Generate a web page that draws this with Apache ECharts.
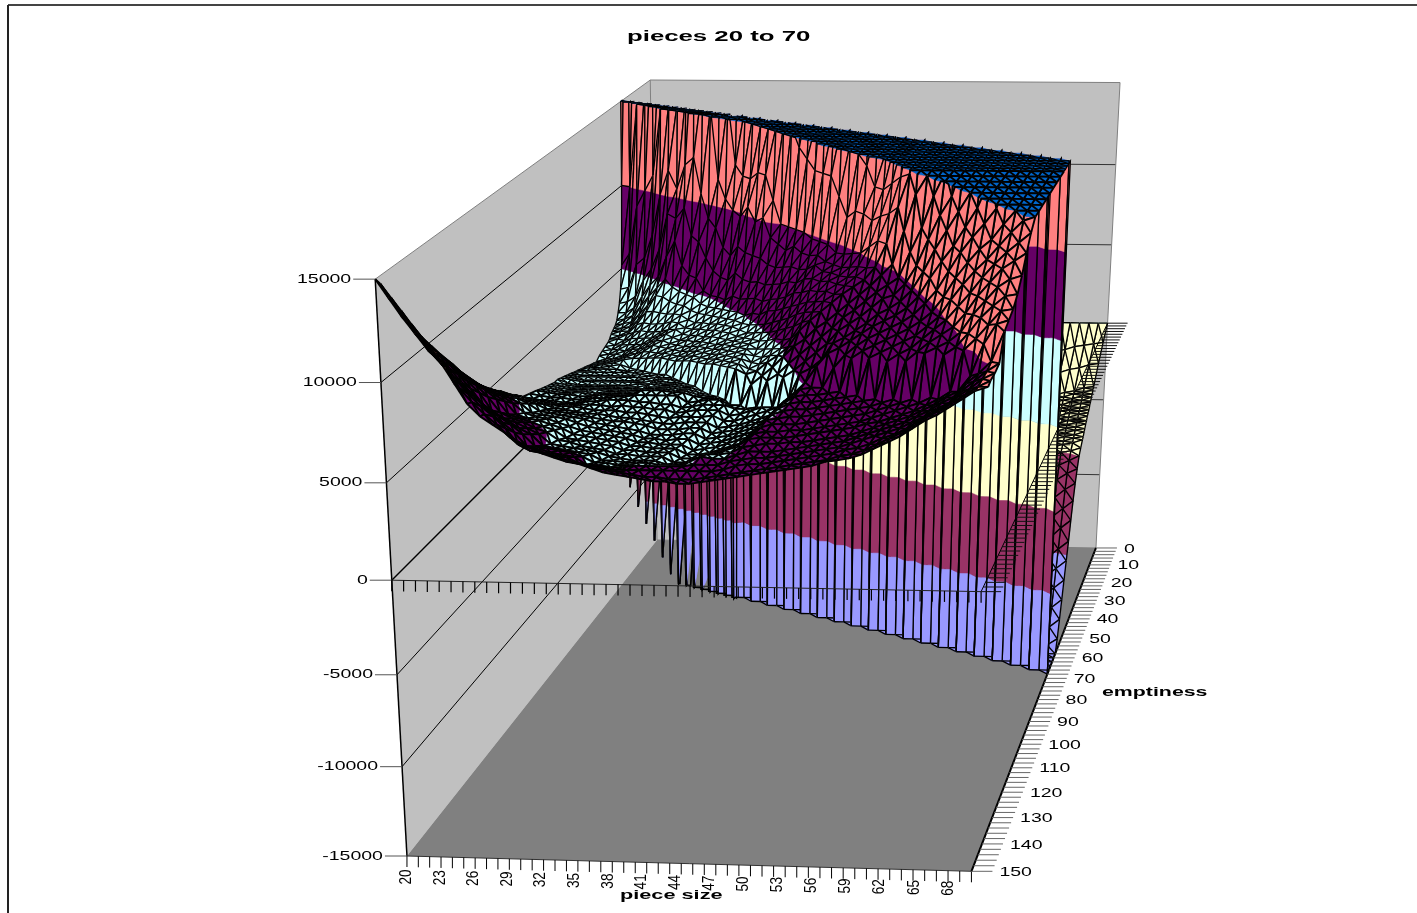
<!DOCTYPE html>
<html>
<head>
<meta charset="utf-8">
<title>pieces 20 to 70</title>
<style>
  html, body { margin: 0; padding: 0; background: #fff; }
  #chart { width: 1417px; height: 913px; }
</style>
<script src="https://cdn.jsdelivr.net/npm/echarts@6/dist/echarts.min.js"></script>
</head>
<body>
<div id="chart"></div>
<script>
const F = -150 // at or under the floor of the plot

const pieceSizes = [20,21,22,23,24,25,26,27,28,29,30,31,32,33,34,35,36,37,38,39,40,41,42,43,44,45,46,47,48,49,50,51,52,53,54,55,56,57,58,59,60,61,62,63,64,65,66,67,68,69]
const pieceLabels = [20,23,26,29,32,35,38,41,44,47,50,53,56,59,62,65,68]
const emptinessRows = [0,6,12,18,19,20,21,22,23,24,25,26,27,28,29,30,31,32,34,36,38,40,42,44,46,48,50,52,54,56,58,60,62,64,66,68,70,72,74,76,80,84,88,92,96,100,104,108,112,116,120,124,128,132,136,140,144,148,150]
const emptinessLabels = [0,10,20,30,40,50,60,70,80,90,100,110,120,130,140,150]
const valueTicks = [-15000,-10000,-5000,0,5000,10000,15000]

// surface height in hundreds, one line per emptiness row, one value per piece size
const surfaceHundreds = [
[0,0,0,0,0,0,0,0,0,0, 0,0,0,0,0,0,0,0,0,0, 0,0,0,0,0,0,0,0,0,0, 0,0,0,0,0,0,0,0,0,0, 0,0,0,0,0,0,0,0,0,0],
[-5,-5,-5,-5,-5,-5,-5,-5,-5,-5, -8,-8,-8,-8,-8,-8,-8,-8,-8,-8, -8,-8,-8,-8,-8,-8,-8,-8,-8,-8, -8,-8,-8,-8,-8,-8,-8,-8,-8,-8, -19,-18,-16,-15,-13,-12,-10,-9,-8,-7],
[-15,-15,-15,-15,-15,-15,-15,-15,-15,-15, -15,-15,-15,-15,-15,-15,-15,-15,-15,-15, -15,-15,-15,-15,-15,-15,-15,-15,-15,-15, -15,-15,-15,-15,-15,-15,-15,-15,-15,-15, -28,-27,-25,-24,-22,-21,-19,-18,-16,-15],
[-42,-38,-38,-38,-38,-38,-38,-38,-38,-38, -38,-38,-38,-38,F,F,F,F,F,F, F,F,F,F,F,F,F,F,F,F, F,F,F,F,F,F,F,F,F,F, -37,-35,-34,-33,-31,-30,-28,-27,-25,-24],
[-93,-47,-40,-40,-40,-40,-40,-40,-40,-40, -40,-40,-40,-40,F,F,F,F,F,F, F,F,F,F,F,F,F,F,F,F, F,F,F,F,F,F,F,F,F,F, -38,-37,-35,-34,-33,-31,-30,-28,-27,-25],
[200,-105,-52,-42,-42,-42,-42,-42,-42,-42, -42,-42,-42,-42,F,F,F,F,F,F, F,F,F,F,F,F,F,F,F,F, F,F,F,F,F,F,F,F,F,F, -40,-38,-37,-35,-34,-33,-31,-30,-28,-27],
[100,260,-115,-56,-45,-45,-45,-45,-45,-45, -45,-45,-45,-45,F,F,F,F,F,F, F,F,F,F,F,F,F,F,F,F, F,F,F,F,F,F,F,F,F,F, -41,-40,-38,-37,-35,-34,-33,-31,-30,-28],
[52,100,250,-125,-61,-48,-48,-48,-48,-48, -48,-48,-48,-48,F,F,F,F,F,F, F,F,F,F,F,F,F,F,F,F, F,F,F,F,F,F,F,F,F,F, -43,-41,-40,-38,-37,-35,-34,-33,-31,-30],
[38,60,150,300,-135,-65,-51,-51,-51,-51, -51,-51,-51,-51,F,F,F,F,F,F, F,F,F,F,F,F,F,F,F,F, F,F,F,F,F,F,F,F,F,F, -44,-43,-41,-40,-38,-37,-35,-34,-33,-31],
[30,40,90,160,300,-145,-72,-55,-55,-55, -55,-55,-55,-55,F,F,F,F,F,F, F,F,F,F,F,F,F,F,F,F, F,F,F,F,F,F,F,F,F,F, -46,-44,-43,-41,-40,-38,-37,-35,-34,-33],
[25,32,55,100,200,350,-160,-85,-60,-60, -60,-60,-60,-60,F,F,F,F,F,F, F,F,F,F,F,F,F,F,F,F, F,F,F,F,F,F,F,F,F,F, -47,-46,-44,-43,-41,-40,-38,-37,-35,-34],
[21,26,36,60,110,200,400,-190,-100,-65, -65,-65,-65,-65,F,F,F,F,F,F, F,F,F,F,F,F,F,F,F,F, F,F,F,F,F,F,F,F,F,F, -49,-47,-46,-44,-43,-41,-40,-38,-37,-35],
[19,23,30,47,75,150,300,420,-220,-115, -72,-72,-72,-72,F,F,F,F,F,F, F,F,F,F,F,F,F,F,F,F, F,F,F,F,F,F,F,F,F,F, -50,-49,-47,-46,-44,-43,-41,-40,-38,-37],
[18,21,26,38,55,100,155,250,450,-260, -135,-80,-80,-80,F,F,F,F,F,F, F,F,F,F,F,F,F,F,F,F, F,F,F,F,F,F,F,F,F,F, -53,-50,-49,-47,-46,-44,-43,-41,-40,-38],
[17,19,23,33,46,68,115,155,300,450, -300,-150,-88,-88,F,F,F,F,F,F, F,F,F,F,F,F,F,F,F,F, F,F,F,F,F,F,F,F,F,F, -56,-53,-50,-49,-47,-46,-44,-43,-41,-40],
[16,18,21,29,40,52,90,105,160,300, 500,-340,-150,-95,F,F,F,F,F,F, F,F,F,F,F,F,F,F,F,F, F,F,F,F,F,F,F,F,F,F, -59,-56,-53,-50,-49,-47,-46,-44,-43,-41],
[14,16,19,26,35,46,65,88,120,200, 300,500,-380,-150,F,F,F,F,F,F, F,F,F,F,F,F,F,F,F,F, F,F,F,F,F,F,F,F,F,F, -63,-59,-56,-53,-50,-49,-47,-46,-44,-43],
[13,15,18,24,32,42,52,75,95,125, 170,300,550,-420,F,F,F,F,F,F, F,F,F,F,F,F,F,F,F,F, F,F,F,F,F,F,F,F,F,F, -67,-63,-59,-56,-53,-50,-49,-47,-46,-44],
[12,13,16,21,27,34,43,49,62,80, 105,155,200,350,600,F,F,F,F,F, F,F,F,F,F,F,F,F,F,F, F,F,F,F,F,F,F,F,F,F, -77,-72,-67,-63,-59,-56,-53,-50,-49,-47],
[11,12,15,19,24,28,35,42,48,58, 78,92,115,160,200,450,650,F,F,F, F,F,F,F,F,F,F,F,F,F, F,F,F,F,F,F,F,F,F,F, -87,-82,-77,-72,-67,-63,-59,-56,-53,-50],
[10,11,14,17,21,25,30,36,42,48, 58,70,88,105,125,160,220,500,700,F, F,F,F,F,F,F,F,F,F,F, F,F,F,F,F,F,F,F,F,F, -98,-93,-87,-82,-77,-72,-67,-63,-59,-56],
[8,10,13,15,19,23,27,32,38,43, 48,52,64,78,100,120,155,200,280,550, 750,F,F,F,F,F,F,F,F,F, F,F,F,F,F,F,F,F,F,F, -108,-103,-98,-93,-87,-82,-77,-72,-67,-63],
[9,10,12,14,18,21,25,29,35,39, 42,46,51,62,75,98,120,150,200,300, 600,800,850,F,F,F,F,F,F,F, F,F,F,F,F,F,F,F,F,F, -118,-113,-108,-103,-98,-93,-87,-82,-77,-72],
[10,11,12,14,17,20,24,28,32,36, 38,42,46,52,62,82,105,125,150,220, 300,500,800,900,950,F,F,F,F,F, F,F,F,F,F,F,F,F,F,F, -128,-123,-118,-113,-108,-103,-98,-93,-87,-82],
[11,12,13,15,17,19,23,27,31,34, 35,38,43,47,52,68,80,98,125,152, 220,320,450,700,900,1000,1000,F,F,F, F,F,F,F,F,F,F,F,F,F, -138,-133,-128,-123,-118,-113,-108,-103,-98,-93],
[12,13,14,15,17,18,22,26,29,31, 33,36,40,44,48,56,66,80,102,112, 155,210,290,420,600,800,1000,1100,1200,F, F,F,F,F,F,F,F,F,F,F, -147,-143,-138,-133,-128,-123,-118,-113,-108,-103],
[13,14,14,15,16,14,20,24,27,29, 31,34,38,41,45,49,56,66,80,92, 100,155,200,280,400,600,800,1000,1200,1300, 1400,F,F,F,F,F,F,F,F,F, F,F,-147,-143,-138,-133,-128,-123,-118,-113],
[14,14,15,15,15,14,15,22,25,28, 30,33,36,39,43,46,50,58,68,78, 90,100,145,180,300,430,580,750,1000,1200, 1400,1500,1500,F,F,F,F,F,F,F, F,F,F,F,-147,-143,-138,-133,-128,-123],
[15,15,15,15,15,15,15,16,24,27, 29,31,34,37,41,44,47,50,60,68, 78,88,100,140,165,300,400,560,750,1000, 1200,1400,1600,1600,1700,F,F,F,F,F, F,F,F,F,F,F,-147,-143,-138,-133],
[16,15,15,15,15,15,15,16,17,26, 28,30,33,36,39,42,45,47,53,60, 70,80,92,100,135,220,300,400,560,750, 1000,1200,1400,1600,1700,1700,1800,F,F,F, F,F,F,F,F,F,F,F,-147,-143],
[17,16,16,16,16,16,16,16,17,18, 27,29,32,35,37,40,43,45,48,54, 63,72,82,90,98,135,165,300,420,560, 750,1000,1200,1400,1600,1700,1800,1800,1900,F, F,F,F,F,F,F,F,F,F,F],
[18,17,16,16,16,16,16,16,17,18, 20,28,31,34,36,38,41,43,45,50, 58,65,75,82,90,98,135,165,310,420, 560,750,1000,1200,1400,1600,1700,1800,1900,1900, 2000,F,F,F,F,F,F,F,F,F],
[19,18,17,17,17,17,17,17,17,18, 20,20,30,33,35,37,40,42,44,47, 52,60,68,76,84,92,98,125,155,200, 300,560,750,1000,1200,1400,1600,1700,1800,1900, 2000,2000,2000,F,F,F,F,F,F,F],
[20,18,17,17,17,17,17,17,18,18, 21,21,20,32,34,36,39,41,43,45, 49,55,63,72,80,88,90,95,115,150, 200,300,420,700,1000,1200,1400,1600,1700,1800, 1900,2000,2000,2000,2000,F,F,F,F,F],
[20,19,18,18,18,18,18,18,18,19, 22,21,21,20,33,35,38,40,42,44, 46,51,58,66,74,82,86,90,96,120, 145,170,250,320,500,800,1100,1300,1500,1600, 1700,1800,1900,1900,2000,2000,2000,F,F,F],
[21,20,19,19,19,19,19,19,19,19, 23,22,22,21,21,34,37,39,41,43, 43,48,54,61,69,77,82,87,90,98, 120,135,155,230,320,500,800,1000,1200,1400, 1500,1600,1700,1800,1900,1900,2000,2000,2000,F],
[22,21,20,20,20,20,20,20,20,20, 24,23,23,22,22,20,36,38,40,42, 41,45,51,57,65,72,78,84,87,92, 100,118,135,160,230,290,500,800,1000,1200, 1300,1400,1500,1600,1700,1800,1900,1900,2000,2000],
[23,22,21,21,21,20,21,21,21,21, 24,24,24,23,23,21,20,37,39,41, 39,42,47,52,60,68,74,80,84,88, 94,105,122,140,165,230,290,500,800,1000, 1100,1200,1300,1400,1500,1600,1700,1800,1900,2000],
[24,23,22,22,22,21,22,22,22,22, 25,25,25,24,24,22,21,21,38,40, 37,40,45,49,55,64,70,76,80,85, 90,95,110,125,145,180,230,300,500,800, 900,1000,1100,1200,1300,1400,1500,1600,1700,1800],
[25,24,23,23,22,22,23,23,23,23, 26,26,26,25,25,23,22,22,21,39, 36,38,43,47,52,61,67,72,77,82, 86,90,97,110,130,148,180,240,290,400, 450,550,650,750,850,1000,1200,1400,1500,1600],
[27,26,25,25,24,24,25,25,26,26, 27,27,27,27,27,23,24,25,25,22, 22,34,39,44,50,56,60,66,70,75, 80,85,90,96,102,120,140,150,180,240, 320,420,500,600,700,800,900,1000,1100,1300],
[29,28,27,27,26,26,27,27,28,28, 28,27,27,26,26,24,25,26,26,26, 24,24,25,40,44,50,55,60,65,70, 76,80,85,90,94,98,112,125,142,155, 200,240,300,370,420,500,600,700,800,1000],
[34,32,31,31,29,29,29,29,29,28, 29,28,28,27,27,25,26,27,27,27, 24,25,27,29,29,46,50,55,60,65, 72,76,80,85,90,92,98,108,122,135, 145,165,200,250,300,340,450,550,650,800],
[38,37,36,35,33,32,32,31,30,30, 30,29,29,28,27,26,27,27,27,28, 25,25,27,29,31,33,38,52,55,60, 69,72,76,80,85,88,92,98,108,120, 130,140,150,175,215,250,330,420,520,600],
[44,42,41,39,37,35,34,33,32,32, 31,30,30,29,28,27,27,28,28,28, 25,26,27,29,31,33,40,45,51,60, 67,70,74,78,82,85,88,92,98,108, 117,125,135,145,160,185,220,280,380,450],
[48,47,45,43,41,38,37,36,35,34, 33,32,32,31,30,28,28,28,29,29, 26,27,28,30,32,34,41,46,51,52, 52,63,70,75,79,82,85,88,92,98, 105,115,125,133,140,148,165,190,230,320],
[54,52,50,48,45,41,40,39,38,37, 35,34,33,32,31,29,29,29,30,30, 27,28,29,31,33,35,42,47,51,52, 52,53,54,72,76,79,82,85,88,92, 97,105,115,123,130,135,143,150,175,220],
[60,57,55,52,49,44,43,42,41,39, 37,36,35,34,33,31,31,30,31,31, 28,29,30,32,34,36,43,48,51,52, 52,53,54,55,56,76,79,82,85,88, 93,98,107,115,122,128,135,142,148,150],
[66,63,60,57,53,48,46,45,43,41, 39,38,37,36,35,33,33,32,32,32, 29,30,31,33,35,37,44,49,51,52, 52,53,54,55,56,57,58,78,82,85, 90,95,100,107,114,122,129,135,140,145],
[74,70,66,62,58,51,49,48,46,44, 41,40,39,38,37,35,35,34,34,34, 31,31,32,34,36,38,45,50,51,52, 52,53,54,55,56,57,58,60,62,82, 87,92,96,100,107,116,123,130,134,138],
[82,77,72,68,63,55,53,51,49,47, 43,42,41,40,39,37,37,36,36,36, 33,33,34,36,38,40,46,50,52,52, 52,53,54,55,56,57,58,60,62,64, 66,90,93,96,101,110,117,124,128,130],
[90,85,79,74,68,60,57,55,52,50, 46,45,43,42,41,39,39,38,38,38, 35,35,36,38,40,42,47,51,52,52, 53,53,54,55,56,57,58,60,62,64, 66,68,71,93,97,104,112,118,123,124],
[98,92,86,80,74,65,61,59,56,53, 48,47,46,45,44,42,41,40,40,40, 38,38,38,40,44,46,48,52,53,53, 53,54,55,56,57,58,59,61,62,64, 66,68,71,74,78,99,105,112,119,120],
[106,100,94,87,80,72,67,64,60,57, 51,50,49,48,47,44,44,43,43,43, 42,42,43,45,48,48,49,52,53,54, 54,55,55,56,57,58,59,61,63,65, 67,69,72,75,79,82,90,106,116,118],
[116,108,102,94,87,80,74,70,66,61, 55,54,53,52,50,47,47,46,46,45, 44,45,46,48,51,50,50,52,54,54, 54,55,56,57,58,59,60,62,64,66, 68,70,73,76,80,83,90,95,101,116],
[126,117,110,102,94,88,80,76,71,66, 59,58,56,55,54,50,50,49,49,50, 50,50,50,50,51,51,51,53,54,55, 55,56,57,58,59,60,61,63,65,67, 69,71,74,77,81,84,90,95,100,104],
[136,127,119,111,103,96,89,83,78,72, 64,61,60,59,58,55,54,53,52,52, 52,52,52,52,52,52,52,53,55,56, 56,57,58,59,60,61,62,64,65,67, 70,72,75,79,83,86,91,95,100,103],
[146,137,128,120,112,106,96,89,83,78, 72,68,66,64,62,60,59,57,56,55, 54,53,53,52,52,52,53,54,55,56, 57,58,59,60,61,62,63,65,66,68, 71,74,77,81,85,88,92,96,100,103],
[150,141,132,124,116,110,100,90,84,80, 76,72,69,66,64,62,61,59,57,56, 55,54,53,53,52,52,53,54,55,56, 57,58,59,60,61,62,64,65,66,68, 71,74,77,81,85,88,92,96,100,102]
]

surfaceHundreds.forEach(function (row, i) {
  if (row.length !== pieceSizes.length) throw new Error('row ' + emptinessRows[i] + ' has ' + row.length)
})
if (surfaceHundreds.length !== emptinessRows.length) throw new Error('rows ' + surfaceHundreds.length)

const zMin = -15000
const zMax = 15000
const bands = [
  {lo: -Infinity, hi: -10000, color: '#9999FF'},
  {lo: -10000, hi: -5000, color: '#993366'},
  {lo: -5000, hi: 0, color: '#FFFFCC'},
  {lo: 0, hi: 5000, color: '#CCFFFF'},
  {lo: 5000, hi: 10000, color: '#660066'},
  {lo: 10000, hi: 15000, color: '#FF8080'},
  {lo: 15000, hi: Infinity, color: '#0066CC'}
]

// camera of the old 3d box: homogeneous origin + one vector per data direction
const camO = [657, 540, 1]
const camX = [425.8, 1.4, -0.012]
const camY = [-341.6, 123.4, -0.225]
const camZ = [-49, -465.2, -0.065]

function toScreen(piece, emptiness, value) {
  const u = (piece - 20) / 49
  const v = emptiness / 150
  const w = (value - zMin) / (zMax - zMin)
  const h = [0, 1, 2].map(function (k) {
    return camO[k] + u * camX[k] + v * camY[k] + w * camZ[k]
  })
  return [h[0] / h[2], h[1] / h[2]]
}

function clipBelow(poly, limit, keepAbove) {
  const out = []
  for (let i = 0; i < poly.length; i++) {
    const a = poly[i]
    const b = poly[(i + 1) % poly.length]
    const aIn = keepAbove ? a[2] >= limit : a[2] <= limit
    const bIn = keepAbove ? b[2] >= limit : b[2] <= limit
    if (aIn) out.push(a)
    if (aIn !== bIn) {
      const t = (limit - a[2]) / (b[2] - a[2])
      out.push([a[0] + t * (b[0] - a[0]), a[1] + t * (b[1] - a[1]), limit])
    }
  }
  return out
}

function clampZ(z) {
  return Math.max(zMin, Math.min(zMax, z))
}

// one mesh edge, bent flat where it leaves the box at the top or the floor
function edgePoints(a, b, api) {
  const ts = [0]
  ;[zMin, zMax].forEach(function (limit) {
    if ((a[2] - limit) * (b[2] - limit) < 0) ts.push((limit - a[2]) / (b[2] - a[2]))
  })
  ts.push(1)
  ts.sort(function (p, q) { return p - q })
  return ts.map(function (t) {
    return api.coord(toScreen(a[0] + t * (b[0] - a[0]), a[1] + t * (b[1] - a[1]), clampZ(a[2] + t * (b[2] - a[2]))))
  })
}

function triangleFills(tri, api, children) {
  bands.forEach(function (band) {
    let poly = tri
    if (band.lo !== -Infinity) poly = clipBelow(poly, band.lo, true)
    if (poly.length && band.hi !== Infinity) poly = clipBelow(poly, band.hi, false)
    if (poly.length < 3) return
    children.push({
      type: 'polygon',
      shape: {points: poly.map(function (p) { return api.coord(toScreen(p[0], p[1], clampZ(p[2]))) })},
      style: {fill: band.color, stroke: band.color, lineWidth: 0.5}
    })
  })
}

function renderCell(params, api) {
  const j = api.value(0)
  const i = api.value(1)
  const vertex = function (r, c) {
    return [pieceSizes[c], emptinessRows[r], surfaceHundreds[r][c] * 100]
  }
  const a = vertex(j, i)
  const b = vertex(j, i + 1)
  const c = vertex(j + 1, i + 1)
  const d = vertex(j + 1, i)
  // nothing of the sunken part shows left of the wall, only the corner at the far right
  if (Math.max(a[2], b[2], c[2], d[2]) <= zMin && a[0] < 60) return {type: 'group', children: []}
  const children = []
  // at a spike the cell has to fold the other way, or the gap between two tips gets filled
  const spike = a[2] < b[2] && c[2] < b[2] && b[2] < 0 && d[2] > 0
  if (spike) {
    triangleFills([a, b, d], api, children)
    triangleFills([b, c, d], api, children)
  } else {
    triangleFills([a, b, c], api, children)
    triangleFills([a, c, d], api, children)
  }
  // the rows out front are twice as far apart as the reference, so their mesh is drawn heavier
  const width = a[1] >= 76 ? 1.9 : 1.35
  ;[[a, b], [b, c], [c, d], [d, a], spike ? [b, d] : [a, c]].forEach(function (e) {
    children.push({
      type: 'polyline',
      shape: {points: edgePoints(e[0], e[1], api)},
      style: {stroke: '#000', lineWidth: width, fill: null}
    })
  })
  return {type: 'group', children: children}
}

// cells are painted from the back row forward, and from the sides in toward the viewer
const cellData = []
emptinessRows.slice(0, -1).forEach(function (e, j) {
  const left = []
  const right = []
  pieceSizes.slice(0, -1).forEach(function (p, i) {
    if (p < 50) left.push(i)
    else right.unshift(i)
  })
  left.concat(right).forEach(function (i) { cellData.push([j, i]) })
})

function polygonAt(corners, fill, api) {
  return {
    type: 'polygon',
    shape: {points: corners.map(function (c) { return api.coord(toScreen(c[0], c[1], c[2])) })},
    style: {fill: fill}
  }
}

function lineAt(p, q, color, width, api) {
  return {
    type: 'line',
    shape: {
      x1: api.coord(p)[0], y1: api.coord(p)[1],
      x2: api.coord(q)[0], y2: api.coord(q)[1]
    },
    style: {stroke: color, lineWidth: width}
  }
}

function textAt(text, p, opts, api) {
  const at = api.coord(p)
  return {
    type: 'text',
    x: at[0],
    y: at[1],
    scaleX: opts.scaleX || 1,
    rotation: opts.rotation || 0,
    style: {
      text: text,
      fill: '#000',
      font: (opts.bold ? 'bold ' : '') + opts.size + 'px "Liberation Sans", Arial, sans-serif',
      textAlign: opts.align || 'left',
      textVerticalAlign: 'middle'
    }
  }
}

function renderBox(params, api) {
  const children = [
    polygonAt([[20, 0, zMin], [20, 0, zMax], [20, 150, zMax], [20, 150, zMin]], '#C0C0C0', api),
    polygonAt([[20, 0, zMin], [20, 0, zMax], [69, 0, zMax], [69, 0, zMin]], '#C0C0C0', api),
    polygonAt([[20, 0, zMin], [69, 0, zMin], [69, 150, zMin], [20, 150, zMin]], '#808080', api)
  ]
  valueTicks.forEach(function (z) {
    const edge = z === zMax ? '#808080' : '#000'
    if (z !== zMin) children.push(lineAt(toScreen(20, 150, z), toScreen(20, 0, z), edge, z === 0 ? 1.4 : 1, api))
    children.push(lineAt(toScreen(20, 0, z), toScreen(69, 0, z), z === zMax || z === zMin ? '#808080' : '#333', 1, api))
  })
  children.push(lineAt(toScreen(20, 0, zMax), toScreen(20, 0, zMin), '#808080', 1, api))
  children.push(lineAt(toScreen(69, 0, zMax), toScreen(69, 0, zMin), '#808080', 1, api))
  return {type: 'group', children: children}
}

function renderAxes(params, api) {
  const children = []
  const shift = function (p, dx, dy) { return [p[0] + dx, p[1] + dy] }

  // frame of the chart area
  children.push(lineAt([8, 5], [1417, 5], '#444', 2, api))
  children.push(lineAt([8, 5], [8, 913], '#222', 2, api))

  // value axis on the near left corner
  children.push(lineAt(toScreen(20, 150, zMax), toScreen(20, 150, zMin), '#000', 1.5, api))
  valueTicks.forEach(function (z) {
    const p = toScreen(20, 150, z)
    children.push(lineAt(shift(p, -22, 0), p, '#555', 1, api))
    children.push(textAt(String(z), shift(p, -24, 0), {size: 13, scaleX: 1.5, align: 'right'}, api))
  })

  // piece size and emptiness axes where they cross the value axis at zero
  children.push(lineAt(toScreen(20, 150, 0), toScreen(69, 150, 0), '#222', 1, api))
  children.push(lineAt(toScreen(69, 150, 0), toScreen(69, 0, 0), '#000', 1, api))
  pieceSizes.forEach(function (p) {
    const top = toScreen(p, 150, 0)
    children.push(lineAt(top, shift(top, 0, 11), '#000', 1.2, api))
  })
  for (let e = 0; e <= 150; e += 2) {
    const top = toScreen(69, e, 0)
    children.push(lineAt(top, shift(top, 20, 0), '#111', 1, api))
  }

  // the same ticks again on the floor, these carry the labels
  children.push(lineAt(toScreen(20, 150, zMin), toScreen(69, 150, zMin), '#333', 1, api))
  children.push(lineAt(toScreen(69, 150, zMin), toScreen(69, 0, zMin), '#000', 2, api))
  pieceSizes.forEach(function (p) {
    const foot = toScreen(p, 150, zMin)
    children.push(lineAt(foot, shift(foot, 0, 11), '#000', 1, api))
  })
  pieceLabels.forEach(function (p) {
    const foot = toScreen(p, 150, zMin)
    children.push(textAt(String(p), shift(foot, -0.23 * (p - 20), 21 - 0.08 * (p - 20)), {size: 16, scaleX: 0.85, align: 'center', rotation: Math.PI / 2}, api))
  })
  for (let e = 0; e <= 150; e += 2) {
    const foot = toScreen(69, e, zMin)
    children.push(lineAt(foot, shift(foot, 21, 0), '#666', 1, api))
  }
  emptinessLabels.forEach(function (e) {
    const foot = toScreen(69, e, zMin)
    children.push(textAt(String(e), shift(foot, 28, 1), {size: 13, scaleX: 1.5}, api))
  })

  // titles
  children.push(textAt('pieces 20 to 70', [627, 37], {size: 14, bold: true, scaleX: 1.84}, api))
  children.push(textAt('emptiness', [1102, 692], {size: 13, bold: true, scaleX: 1.64}, api))
  children.push(textAt('piece size', [620, 895], {size: 13, bold: true, scaleX: 1.67}, api))
  return {type: 'group', children: children}
}

const myChart = echarts.init(document.getElementById('chart'), null, {renderer: 'canvas'})
myChart.setOption({
  animation: false,
  backgroundColor: '#fff',
  tooltip: {show: false},
  grid: {left: 0, right: 0, top: 0, bottom: 0},
  xAxis: {type: 'value', min: 0, max: 1417, show: false},
  yAxis: {type: 'value', min: 0, max: 913, inverse: true, show: false},
  series: [
    {type: 'custom', coordinateSystem: 'cartesian2d', clip: false, silent: true, data: [[0, 0]], renderItem: renderBox},
    {type: 'custom', coordinateSystem: 'cartesian2d', clip: false, silent: true, progressive: 0, data: cellData, encode: {x: 0, y: 1}, renderItem: renderCell},
    {type: 'custom', coordinateSystem: 'cartesian2d', clip: false, silent: true, data: [[0, 0]], renderItem: renderAxes}
  ]
})
</script>
</body>
</html>
